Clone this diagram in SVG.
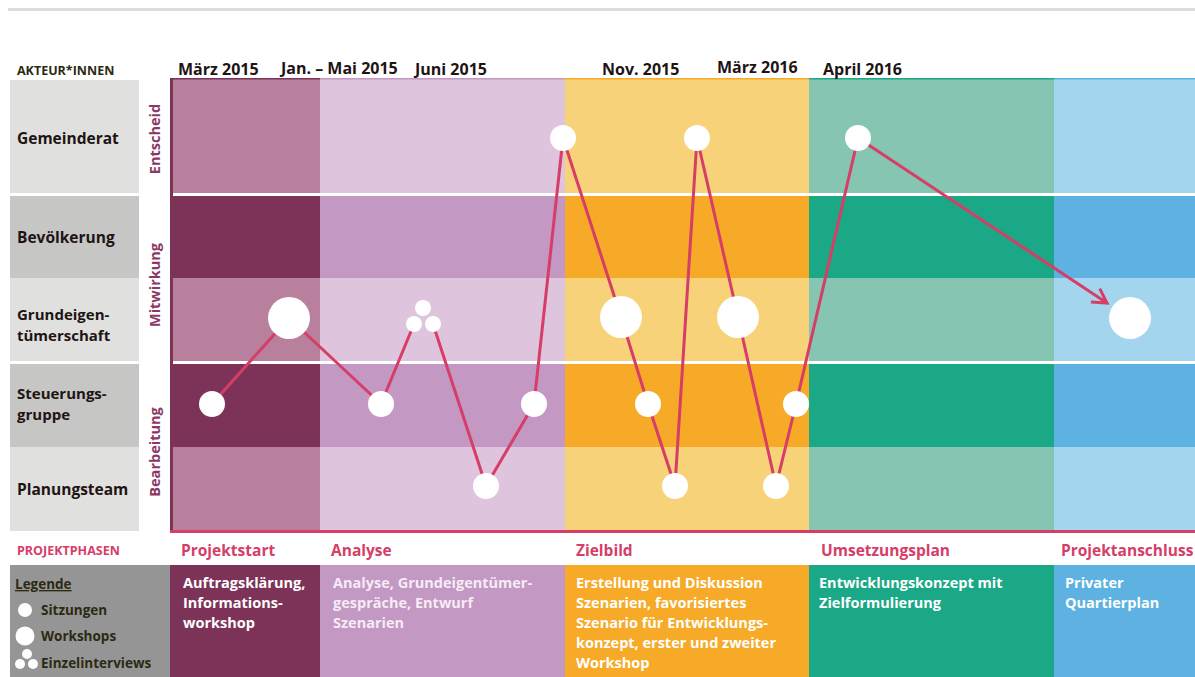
<svg xmlns="http://www.w3.org/2000/svg" width="1195" height="677" viewBox="0 0 1195 677">
<defs>
<style>
text{font-family:"Open Sans","Noto Sans","Liberation Sans",sans-serif;font-weight:700}
.hdr{font-size:16px;fill:#1e1414}
.row{font-size:15.5px;fill:#1e1414}
.row2{font-size:15px;fill:#1e1414}
.rot{font-size:14.5px;fill:#8a3866}
.ph{font-size:15.5px;fill:#d63d67}
.desc{font-size:14.5px;fill:#ffffff}
.leg{font-size:13.5px;fill:#2b2a12}
.dot{fill:#ffffff}
.con{fill:none;stroke:#d63d67;stroke-width:3;stroke-linejoin:round}
</style>
<marker id="arr" markerWidth="20" markerHeight="20" refX="16" refY="10" orient="auto" markerUnits="userSpaceOnUse">
<polyline points="2,2 16,10 2,18" fill="none" stroke="#d63d67" stroke-width="3"/>
</marker>
</defs>
<rect width="1195" height="677" fill="#ffffff"/>
<rect x="8" y="8" width="1187" height="3" fill="#dcdcdc"/>

<g id="actor-labels">
<rect x="10" y="80" width="129" height="113" fill="#e0e0de"/>
<rect x="10" y="196" width="129" height="82" fill="#c6c6c4"/>
<rect x="10" y="278" width="129" height="83" fill="#e0e0de"/>
<rect x="10" y="364" width="129" height="83" fill="#c6c6c4"/>
<rect x="10" y="447" width="129" height="84" fill="#e0e0de"/>
<text x="17" y="75" style="font-size:12.5px;fill:#2b2a12">AKTEUR*INNEN</text>
<text class="row" x="17" y="144">Gemeinderat</text>
<text class="row" x="17" y="243">Bevölkerung</text>
<text class="row2" x="17" y="320">Grundeigen-</text>
<text class="row2" x="17" y="341">tümerschaft</text>
<text class="row2" x="17" y="399">Steuerungs-</text>
<text class="row2" x="17" y="420">gruppe</text>
<text class="row" x="17" y="495">Planungsteam</text>
<text class="rot" transform="translate(160,139) rotate(-90)" text-anchor="middle">Entscheid</text>
<text class="rot" transform="translate(160,285) rotate(-90)" text-anchor="middle">Mitwirkung</text>
<text class="rot" transform="translate(160,452) rotate(-90)" text-anchor="middle">Bearbeitung</text>
</g>

<g id="phase-grid">
<rect x="173" y="79" width="147" height="114" fill="#b9809e"/>
<rect x="173" y="196" width="147" height="82" fill="#7d3358"/>
<rect x="173" y="278" width="147" height="83" fill="#b9809e"/>
<rect x="173" y="364" width="147" height="83" fill="#7d3358"/>
<rect x="173" y="447" width="147" height="84" fill="#b9809e"/>

<rect x="320" y="79" width="245" height="114" fill="#dfc4dd"/>
<rect x="320" y="196" width="245" height="82" fill="#c398c3"/>
<rect x="320" y="278" width="245" height="83" fill="#dfc4dd"/>
<rect x="320" y="364" width="245" height="83" fill="#c398c3"/>
<rect x="320" y="447" width="245" height="84" fill="#dfc4dd"/>

<rect x="565" y="79" width="244" height="114" fill="#f8d279"/>
<rect x="565" y="196" width="244" height="82" fill="#f7aa27"/>
<rect x="565" y="278" width="244" height="83" fill="#f8d279"/>
<rect x="565" y="364" width="244" height="83" fill="#f7aa27"/>
<rect x="565" y="447" width="244" height="84" fill="#f8d279"/>

<rect x="809" y="79" width="245" height="114" fill="#86c5b1"/>
<rect x="809" y="196" width="245" height="82" fill="#1ba886"/>
<rect x="809" y="278" width="245" height="83" fill="#86c5b1"/>
<rect x="809" y="364" width="245" height="83" fill="#1ba886"/>
<rect x="809" y="447" width="245" height="84" fill="#86c5b1"/>

<rect x="1054" y="79" width="141" height="114" fill="#a3d6ee"/>
<rect x="1054" y="196" width="141" height="82" fill="#5db2e1"/>
<rect x="1054" y="278" width="141" height="83" fill="#a3d6ee"/>
<rect x="1054" y="364" width="141" height="83" fill="#5db2e1"/>
<rect x="1054" y="447" width="141" height="84" fill="#a3d6ee"/>

<rect x="173" y="78" width="147" height="1.5" fill="#7d3358"/>
<rect x="320" y="78" width="245" height="1.5" fill="#c398c3"/>
<rect x="565" y="78" width="244" height="1.5" fill="#f7aa27"/>
<rect x="809" y="78" width="245" height="1.5" fill="#1ba886"/>
<rect x="1054" y="78" width="141" height="1.5" fill="#5db2e1"/>
<rect x="170" y="78" width="3" height="453" fill="#7d3358"/>
<rect x="170" y="530" width="1025" height="3" fill="#d63d67"/>
</g>

<g id="dates">
<text class="hdr" x="178" y="75">März 2015</text>
<text class="hdr" x="281" y="74">Jan. – Mai 2015</text>
<text class="hdr" x="415" y="75">Juni 2015</text>
<text class="hdr" x="602" y="75">Nov. 2015</text>
<text class="hdr" x="717" y="73">März 2016</text>
<text class="hdr" x="823" y="75">April 2016</text>
</g>

<g id="connectors">
<polyline class="con" points="212,404 289,318 381,404 414,324"/>
<polyline class="con" points="433,324 486,486 534,404 563,138 621,317 648,404 675,486 697,138 738,317 776,486 796,404 858,138"/>
<line class="con" x1="858" y1="138" x2="1107" y2="303" marker-end="url(#arr)"/>
</g>

<g id="n1"><circle class="dot" cx="212" cy="404" r="13"/></g>
<g id="n2"><circle class="dot" cx="289" cy="318" r="21"/></g>
<g id="n3"><circle class="dot" cx="381" cy="404" r="13"/></g>
<g id="n4"><circle class="dot" cx="423" cy="308" r="8"/><circle class="dot" cx="414" cy="324" r="8"/><circle class="dot" cx="433" cy="324" r="8"/></g>
<g id="n5"><circle class="dot" cx="486" cy="486" r="13"/></g>
<g id="n6"><circle class="dot" cx="534" cy="404" r="13"/></g>
<g id="n7"><circle class="dot" cx="563" cy="138" r="13"/></g>
<g id="n8"><circle class="dot" cx="621" cy="317" r="21"/></g>
<g id="n9"><circle class="dot" cx="648" cy="404" r="13"/></g>
<g id="n10"><circle class="dot" cx="675" cy="486" r="13"/></g>
<g id="n11"><circle class="dot" cx="697" cy="138" r="13"/></g>
<g id="n12"><circle class="dot" cx="738" cy="317" r="21"/></g>
<g id="n13"><circle class="dot" cx="776" cy="486" r="13"/></g>
<g id="n14"><circle class="dot" cx="796" cy="404" r="13"/></g>
<g id="n15"><circle class="dot" cx="858" cy="138" r="13"/></g>
<g id="n16"><circle class="dot" cx="1130" cy="318" r="21"/></g>

<g id="phases">
<text x="17" y="555" style="font-size:12.5px;fill:#d63d67">PROJEKTPHASEN</text>
<text class="ph" x="181" y="556">Projektstart</text>
<text class="ph" x="331" y="556">Analyse</text>
<text class="ph" x="576" y="556">Zielbild</text>
<text class="ph" x="821" y="556">Umsetzungsplan</text>
<text class="ph" x="1061" y="556">Projektanschluss</text>
</g>

<g id="legend">
<rect x="10" y="565" width="160" height="112" fill="#959595"/>
<text class="leg" x="15" y="589" text-decoration="underline">Legende</text>
<circle class="dot" cx="25" cy="610" r="7"/>
<text class="leg" x="41" y="615">Sitzungen</text>
<circle class="dot" cx="25" cy="636" r="9.5"/>
<text class="leg" x="41" y="641">Workshops</text>
<circle class="dot" cx="27" cy="654" r="5"/><circle class="dot" cx="20" cy="664" r="5"/><circle class="dot" cx="33" cy="664" r="5"/>
<text class="leg" x="41" y="668">Einzelinterviews</text>
</g>

<g id="desc-projektstart">
<rect x="170" y="565" width="150" height="112" fill="#7d3358"/>
<text class="desc" x="183" y="588">Auftragsklärung,</text>
<text class="desc" x="183" y="608">Informations-</text>
<text class="desc" x="183" y="628">workshop</text>
</g>
<g id="desc-analyse">
<rect x="320" y="565" width="245" height="112" fill="#c398c3"/>
<text class="desc" x="333" y="588" style="fill:#f6ecf5">Analyse, Grundeigentümer-</text>
<text class="desc" x="333" y="608" style="fill:#f6ecf5">gespräche, Entwurf</text>
<text class="desc" x="333" y="628" style="fill:#f6ecf5">Szenarien</text>
</g>
<g id="desc-zielbild">
<rect x="565" y="565" width="244" height="112" fill="#f7aa27"/>
<text class="desc" x="576" y="588">Erstellung und Diskussion</text>
<text class="desc" x="576" y="608">Szenarien, favorisiertes</text>
<text class="desc" x="576" y="628">Szenario für Entwicklungs-</text>
<text class="desc" x="576" y="648">konzept, erster und zweiter</text>
<text class="desc" x="576" y="668">Workshop</text>
</g>
<g id="desc-umsetzung">
<rect x="809" y="565" width="245" height="112" fill="#1ba886"/>
<text class="desc" x="819" y="588">Entwicklungskonzept mit</text>
<text class="desc" x="819" y="608">Zielformulierung</text>
</g>
<g id="desc-anschluss">
<rect x="1054" y="565" width="141" height="112" fill="#5db2e1"/>
<text class="desc" x="1065" y="588">Privater</text>
<text class="desc" x="1065" y="608">Quartierplan</text>
</g>
</svg>
